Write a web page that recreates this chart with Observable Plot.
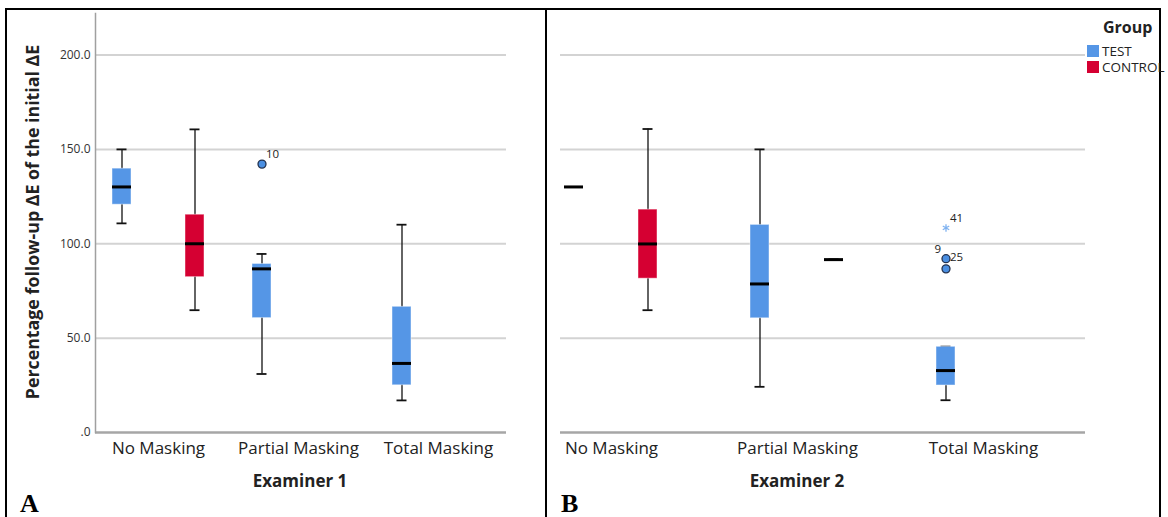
<!DOCTYPE html>
<html><head><meta charset="utf-8">
<script src="https://cdn.jsdelivr.net/npm/d3@7"></script>
<script src="https://cdn.jsdelivr.net/npm/@observablehq/plot@0.6"></script>
<style>
body{margin:0;background:#fff;font-family:"Open Sans",sans-serif;}
#page{position:relative;width:1168px;height:517px;overflow:hidden;background:#fff;}
.abs{position:absolute;}
.bl{background:#000;}
.ytitle{left:32px;top:222px;transform:translate(-50%,-50%) rotate(-90deg);white-space:nowrap;font-weight:700;font-size:17.8px;color:#222;}
.xtitle{top:480px;transform:translate(-50%,-50%);white-space:nowrap;font-weight:700;font-size:17px;color:#222;}
.panel-letter{font-family:"Liberation Serif",serif;font-weight:700;font-size:26px;line-height:20px;color:#000;top:494px;}
.leg{font-size:13.5px;line-height:15px;color:#222;white-space:nowrap;}
.sw{width:12px;height:12px;}
svg{max-width:none !important;}
#legend{position:absolute;left:0;top:0;z-index:2;}
</style></head><body>
<div id="page">
  <div id="panelA" class="abs" style="left:0;top:0;width:546px;height:470px;"></div>
  <div class="abs" style="left:560px;top:0;width:525px;height:470px;overflow:hidden;">
    <div id="panelB" class="abs" style="left:-84px;top:0;width:620px;height:470px;"></div>
  </div>
  <div class="abs bl" style="left:5px;top:8px;width:1156px;height:2px;"></div>
  <div class="abs bl" style="left:5px;top:8px;width:2px;height:520px;"></div>
  <div class="abs bl" style="left:545px;top:8px;width:2px;height:520px;"></div>
  <div class="abs bl" style="left:1159px;top:8px;width:2px;height:520px;"></div>
  <div class="abs ytitle" id="ytitle"></div>
  <div class="abs xtitle" id="xtitleA" style="left:300px;"></div>
  <div class="abs xtitle" id="xtitleB" style="left:797px;"></div>
  <div class="abs panel-letter" style="left:20px;">A</div>
  <div class="abs panel-letter" style="left:561px;">B</div>
  <div id="legend"></div>
</div>
<script>
// ---------- data ----------
const categories = ["No Masking", "Partial Masking", "Total Masking"];
const groups = ["TEST", "CONTROL"];
const groupColors = ["#5596e6", "#d50032"];
const yTicks = [0, 50, 100, 150, 200];
const yTickLabels = [".0", "50.0", "100.0", "150.0", "200.0"];
const yTitle = "Percentage follow-up ΔE of the initial ΔE";
const panelTitles = ["Examiner 1", "Examiner 2"];
const legendTitle = "Group";

// Examiner 1 box summaries
const e1Category = ["No Masking", "No Masking", "Partial Masking", "Total Masking"];
const e1Group    = ["TEST", "CONTROL", "TEST", "TEST"];
const e1Min      = [110.8, 64.8, 31.0, 17.0];
const e1Q1       = [120.7, 82.3, 60.6, 25.0];
const e1Median   = [130.1, 100.0, 86.7, 36.6];
const e1Q3       = [139.8, 115.4, 89.3, 66.6];
const e1Max      = [150.0, 160.6, 94.6, 110.1];
// Examiner 1 outliers
const e1OutCategory = ["Partial Masking"];
const e1OutGroup    = ["TEST"];
const e1OutValue    = [142.2];
const e1OutKind     = ["outlier"];
const e1OutLabel    = ["10"];

// Examiner 2 box summaries
const e2Category = ["No Masking", "No Masking", "Partial Masking", "Partial Masking", "Total Masking"];
const e2Group    = ["TEST", "CONTROL", "TEST", "CONTROL", "TEST"];
const e2Min      = [130.1, 64.8, 24.2, 91.6, 17.1];
const e2Q1       = [130.1, 81.5, 60.5, 91.6, 24.9];
const e2Median   = [130.1, 99.9, 78.7, 91.6, 32.8];
const e2Q3       = [130.1, 118.1, 110.0, 91.6, 45.4];
const e2Max      = [130.1, 160.8, 150.0, 91.6, 45.5];
// Examiner 2 outliers
const e2OutCategory = ["Total Masking", "Total Masking", "Total Masking"];
const e2OutGroup    = ["TEST", "TEST", "TEST"];
const e2OutValue    = [108.4, 92.1, 86.7];
const e2OutKind     = ["extreme", "outlier", "outlier"];
// Examiner 2 case labels
const e2LabelValue  = [108.4, 92.1, 92.1];
const e2LabelText   = ["41", "25", "9"];

// ---------- build tables ----------
function boxes(cat, grp, mn, q1, md, q3, mx) {
  return cat.map((c, i) => ({category: c, group: grp[i], min: mn[i], q1: q1[i], median: md[i], q3: q3[i], max: mx[i]}));
}
function pts(cat, grp, val, extra) {
  return cat.map((c, i) => ({category: c, group: grp[i], value: val[i], ...Object.fromEntries(Object.entries(extra).map(([k, a]) => [k, a[i]]))}));
}
const rowsA = boxes(e1Category, e1Group, e1Min, e1Q1, e1Median, e1Q3, e1Max);
const rowsB = boxes(e2Category, e2Group, e2Min, e2Q1, e2Median, e2Q3, e2Max);
const outsA = pts(e1OutCategory, e1OutGroup, e1OutValue, {kind: e1OutKind});
const outsB = pts(e2OutCategory, e2OutGroup, e2OutValue, {kind: e2OutKind});
const labsA = pts(e1OutCategory, e1OutGroup, e1OutValue, {text: e1OutLabel});
const labsB = pts(e2OutCategory, e2OutGroup, e2LabelValue, {text: e2LabelText});
const gridRows = categories.flatMap(c => yTicks.map(t => ({category: c, value: t})));

function panel({rows, outs, labs, width, marginLeft, marginRight, fxRange, paddingOuter, showY, firstInset, lastInset}) {
  const F = {fx: "category", x: "group"};
  const first = categories[0], last = categories[categories.length - 1];
  const gridStyle = {stroke: "#d3d3d3", strokeWidth: 2};
  const baseStyle = {stroke: "#a6a6a6", strokeWidth: 2.5};
  const lines = (filt, style) => [
    Plot.ruleY(gridRows.filter(d => filt(d) && d.category === first), {fx: "category", y: "value", insetLeft: firstInset, ...style}),
    Plot.ruleY(gridRows.filter(d => filt(d) && d.category !== first && d.category !== last), {fx: "category", y: "value", ...style}),
    Plot.ruleY(gridRows.filter(d => filt(d) && d.category === last), {fx: "category", y: "value", insetRight: lastInset, ...style})
  ];
  const marks = [
    ...lines(d => d.value > 0, gridStyle),
    ...lines(d => d.value === 0, baseStyle),
    Plot.axisFx({anchor: "bottom", tickSize: 0, tickPadding: 9, fontSize: 17, label: null, fill: "#222"}),
    Plot.ruleX(rows, {...F, y1: "min", y2: "max", stroke: "#111", strokeWidth: 1.3}),
    Plot.tickY(rows, {...F, y: "min", insetLeft: 4.5, insetRight: 4.5, stroke: "#111", strokeWidth: 1.8}),
    Plot.tickY(rows, {...F, y: "max", insetLeft: 4.5, insetRight: 4.5, stroke: "#111", strokeWidth: 1.8}),
    Plot.barY(rows, {...F, y1: "q1", y2: "q3", fill: "group", stroke: "#fff", strokeOpacity: 0.45, strokeWidth: 1}),
    Plot.tickY(rows, {...F, y: "median", stroke: "#000", strokeWidth: 3}),
    Plot.dot(outs.filter(d => d.kind === "outlier"), {...F, y: "value", r: 4, fill: "#4a8fe2", stroke: "#23324f", strokeWidth: 1.3}),
    Plot.dot(outs.filter(d => d.kind === "extreme"), {...F, y: "value", r: 3.5, symbol: "asterisk", stroke: "#7fb2f0", strokeWidth: 1.3}),
    Plot.text(labs.filter(d => d.text !== "25" && d.text !== "9"), {...F, y: "value", text: "text", textAnchor: "start", dx: 4, dy: -10, fontSize: 11.5, fill: "#222"}),
    Plot.text(labs.filter(d => d.text === "25"), {...F, y: "value", text: "text", textAnchor: "start", dx: 4, dy: -1, fontSize: 11.5, fill: "#222"}),
    Plot.text(labs.filter(d => d.text === "9"), {...F, y: "value", text: "text", textAnchor: "end", dx: -5, dy: -9, fontSize: 11.5, fill: "#222"})
  ];
  if (showY) {
    marks.push(Plot.axisY(yTicks, {tickFormat: d => yTickLabels[yTicks.indexOf(d)], tickSize: 0, tickPadding: 5, dx: 7, fontSize: 12, fill: "#333", label: null}));
    marks.push(Plot.frame({anchor: "left", facetAnchor: "left", dx: 7, stroke: "#a0a0a0", strokeWidth: 1.5}));
  }
  const svg = Plot.plot({
    width, height: 470, marginTop: 13, marginBottom: 38, marginLeft, marginRight,
    style: {fontFamily: "Open Sans, sans-serif", background: "transparent", overflow: "visible"},
    fx: {domain: categories, range: fxRange, padding: 0, label: null},
    x: {domain: groups, paddingInner: 0.743, paddingOuter, axis: null},
    y: {domain: [0, 222], label: null, axis: null},
    color: {domain: groups, range: groupColors},
    marks
  });
  svg.style.maxWidth = "none";
  return svg;
}

document.getElementById("panelA").append(panel({
  rows: rowsA, outs: outsA, labs: labsA, width: 546, marginLeft: 87, marginRight: 37,
  fxRange: [87, 509], paddingOuter: 0.322, showY: true, firstInset: 7, lastInset: 2
}));
document.getElementById("panelB").append(panel({
  rows: rowsB, outs: outsB, labs: labsB, width: 620, marginLeft: 42, marginRight: 20,
  fxRange: [42, 600], paddingOuter: 0.628, showY: false, firstInset: 0, lastInset: -9
}));

document.getElementById("ytitle").textContent = yTitle;
document.getElementById("xtitleA").textContent = panelTitles[0];
document.getElementById("xtitleB").textContent = panelTitles[1];

const leg = document.getElementById("legend");
leg.innerHTML = `<div class="abs" style="left:1103px;top:16px;font-weight:700;font-size:16px;line-height:22px;color:#222;">${legendTitle}</div>` +
  groups.map((g, i) => `<div class="abs sw" style="left:1087px;top:${45 + i * 16}px;background:${groupColors[i]}"></div>` +
    `<div class="abs leg" style="left:1102px;top:${43.5 + i * 16}px;">${g}</div>`).join("");
</script>
</body></html>
